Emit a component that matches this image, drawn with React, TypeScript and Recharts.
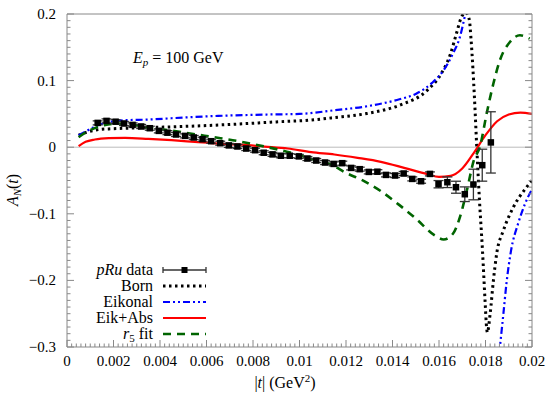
import {
  ComposedChart,
  Line,
  Scatter,
  ErrorBar,
  XAxis,
  YAxis,
  ReferenceLine,
} from "recharts";

// ---------------------------------------------------------------------------
// Data
// ---------------------------------------------------------------------------

// pRu data points
const dataT = [
  0.00132, 0.0017, 0.00209, 0.00245, 0.00282, 0.00319, 0.00356, 0.00395, 0.00432, 0.00469,
  0.00508, 0.00545, 0.00583, 0.0062, 0.00659, 0.00696, 0.00733, 0.00771, 0.00809, 0.00846,
  0.00884, 0.0092, 0.00958, 0.00997, 0.01034, 0.01072, 0.0111, 0.01147, 0.01184, 0.01222,
  0.01259, 0.01298, 0.01335, 0.01372, 0.01411, 0.01448, 0.01485, 0.01523, 0.01561, 0.01598,
  0.01636, 0.01673, 0.01711, 0.01748, 0.01786, 0.01823,
];
const dataA = [
  0.0365, 0.0395, 0.0383, 0.0356, 0.0335, 0.0311, 0.0285, 0.0245, 0.0218, 0.0191,
  0.017, 0.0146, 0.012, 0.009, 0.006, 0.0027, 0.0011, -0.002, -0.0045, -0.0083,
  -0.0108, -0.0128, -0.0128, -0.0138, -0.017, -0.02, -0.023, -0.0251, -0.024, -0.0311,
  -0.033, -0.0371, -0.0368, -0.0416, -0.0425, -0.0395, -0.0476, -0.0511, -0.0401, -0.0556,
  -0.0526, -0.0601, -0.0706, -0.056, -0.027, 0.0072,
];
const dataErr = [
  0.003, 0.003, 0.003, 0.003, 0.003, 0.003, 0.003, 0.003, 0.003, 0.003,
  0.003, 0.003, 0.003, 0.003, 0.003, 0.003, 0.003, 0.003, 0.003, 0.003,
  0.003, 0.003, 0.003, 0.003, 0.003, 0.003, 0.003, 0.003, 0.003, 0.003,
  0.003, 0.003, 0.003, 0.003, 0.003, 0.003, 0.003, 0.003, 0.003, 0.0055,
  0.008, 0.009, 0.011, 0.023, 0.024, 0.046,
];

// Born
const bornT = [
  0.0005, 0.0009, 0.0015, 0.0018, 0.003, 0.004, 0.006, 0.008, 0.009, 0.0104,
  0.0115, 0.0129, 0.0143, 0.0155, 0.0161, 0.0165, 0.01675, 0.01697, 0.01715, 0.0173,
  0.01738, 0.01753, 0.01763, 0.01774, 0.01787, 0.01798, 0.01805, 0.01808, 0.0182, 0.01834,
  0.01848, 0.01877, 0.0192, 0.01977, 0.02,
];
const bornA = [
  0.018, 0.023, 0.027, 0.0275, 0.029, 0.03, 0.0325, 0.036, 0.038, 0.0405,
  0.0445, 0.0506, 0.063, 0.0856, 0.1107, 0.1407, 0.1707, 0.1957, 0.202, 0.192,
  0.161, 0.0706, -0.0045, -0.0796, -0.155, -0.23, -0.272, -0.278, -0.25, -0.2,
  -0.16, -0.125, -0.09, -0.06, -0.05,
];

// Eikonal (pole between 0.0173 and 0.0185)
const eikT = [
  0.0005, 0.0008, 0.0012, 0.0017, 0.0025, 0.0035, 0.005, 0.0065, 0.0085, 0.01,
  0.0115, 0.013, 0.0143, 0.015, 0.0157, 0.0162, 0.0166, 0.0169, 0.0171, 0.0173,
  0.018, 0.0185, 0.01865, 0.01877, 0.0189, 0.0191, 0.0194, 0.0197, 0.02,
];
const eikA: (number | null)[] = [
  0.018, 0.0235, 0.031, 0.037, 0.0405, 0.0415, 0.0445, 0.047, 0.049, 0.05,
  0.0555, 0.062, 0.072, 0.08, 0.0965, 0.1156, 0.1407, 0.1656, 0.195, 0.23,
  null, -0.34, -0.29, -0.25, -0.205, -0.155, -0.115, -0.085, -0.063,
];

// Eik+Abs
const absT = [
  0.0005, 0.0008, 0.0012, 0.0018, 0.0025, 0.0035, 0.0045, 0.0055, 0.0065, 0.0075,
  0.0085, 0.0095, 0.0105, 0.0115, 0.0125, 0.0135, 0.0145, 0.0155, 0.016, 0.0165,
  0.017, 0.0175, 0.018, 0.0185, 0.019, 0.0195, 0.02,
];
const absA = [
  0.0015, 0.008, 0.0115, 0.0135, 0.014, 0.0125, 0.0105, 0.008, 0.0055, 0.0038,
  0.001, -0.002, -0.0075, -0.011, -0.016, -0.022, -0.031, -0.0405, -0.0445, -0.043,
  -0.032, -0.0085, 0.018, 0.039, 0.049, 0.052, 0.05,
];

// r5 fit
const fitT = [
  0.0005, 0.0009, 0.0016, 0.0022, 0.0028, 0.0036, 0.0045, 0.0055, 0.0066, 0.0073,
  0.008, 0.0087, 0.0096, 0.0106, 0.0114, 0.012, 0.0127, 0.0135, 0.0143, 0.015,
  0.0158, 0.0162, 0.0166, 0.0169, 0.0172, 0.0175, 0.01776, 0.01805, 0.01834, 0.01862,
  0.01905, 0.01948, 0.0199,
];
const fitA = [
  0.015, 0.024, 0.033, 0.0355, 0.034, 0.029, 0.025, 0.0195, 0.0135, 0.0095,
  0.0045, -0.0005, -0.008, -0.0185, -0.027, -0.0386, -0.0495, -0.066, -0.087, -0.107,
  -0.132, -0.1386, -0.13, -0.105, -0.0646, -0.0195, 0.0005, 0.0506, 0.0956, 0.1306,
  0.158, 0.168, 0.163,
];

// Axis ticks
const xMajor = [0, 0.002, 0.004, 0.006, 0.008, 0.01, 0.012, 0.014, 0.016, 0.018, 0.02];
const xLabels = ["0", "0.002", "0.004", "0.006", "0.008", "0.01", "0.012", "0.014", "0.016", "0.018", "0.02"];
const yMajor = [-0.3, -0.2, -0.1, 0, 0.1, 0.2];
const yLabels = ["\u22120.3", "\u22120.2", "\u22120.1", "0", "0.1", "0.2"];

// ---------------------------------------------------------------------------
// Helpers
// ---------------------------------------------------------------------------

const zip = (ts: number[], ys: (number | null)[]) => ts.map((t, i) => ({ t, y: ys[i] }));

const points = dataT.map((t, i) => ({ t, y: dataA[i], err: dataErr[i] }));

// minor ticks: 10 subdivisions per major interval
const xMinor = Array.from({ length: 101 }, (_, i) => Math.round(i * 2) / 10000);
const yMinor = Array.from({ length: 51 }, (_, i) => Math.round(-300 + i * 10) / 1000);

const majorIndex = (list: number[], v: number) =>
  list.findIndex((m) => Math.abs(m - v) < 1e-9);

const FRAME = "#888";
const FONT = "'Liberation Serif', 'Times New Roman', serif";
const MAJ = 7;
const MIN = 3.5;

function XTick(props: any) {
  const { x, y, payload, top } = props;
  const i = majorIndex(xMajor, payload.value);
  const len = i >= 0 ? MAJ : MIN;
  return (
    <g>
      <line x1={x} x2={x} y1={y} y2={top ? y + len : y - len} stroke={FRAME} strokeWidth={1} />
      {!top && i >= 0 && (
        <text x={x} y={y + 19} textAnchor="middle" fontSize={15} fontFamily={FONT} fill="#000">
          {xLabels[i]}
        </text>
      )}
    </g>
  );
}

function YTick(props: any) {
  const { x, y, payload, right } = props;
  const i = majorIndex(yMajor, payload.value);
  const len = i >= 0 ? MAJ : MIN;
  return (
    <g>
      <line x1={x} x2={right ? x - len : x + len} y1={y} y2={y} stroke={FRAME} strokeWidth={1} />
      {!right && i >= 0 && (
        <text x={x - 11} y={y + 5} textAnchor="end" fontSize={15} fontFamily={FONT} fill="#000">
          {yLabels[i]}
        </text>
      )}
    </g>
  );
}

const squareShape = (p: any) => (
  <rect x={p.cx - 3.25} y={p.cy - 3.25} width={6.5} height={6.5} fill="#000" />
);

// ---------------------------------------------------------------------------
// Legend entries
// ---------------------------------------------------------------------------

const legendRows = [
  { key: "data", y: 270 },
  { key: "born", y: 286, color: "#000", dash: "2.5 3.5", width: 3 },
  { key: "eik", y: 302, color: "#0000ff", dash: "7 3 2 3 2 3", width: 2.2 },
  { key: "abs", y: 318, color: "#ff0000", dash: undefined, width: 2.2 },
  { key: "fit", y: 334, color: "#006400", dash: "8 6", width: 2.6 },
];

function LegendLabel({ k, y }: { k: string; y: number }) {
  const common = { x: 153, y: y + 5, textAnchor: "end" as const, fontSize: 16, fontFamily: FONT, fill: "#000" };
  if (k === "data")
    return (
      <text {...common}>
        <tspan fontStyle="italic">pRu</tspan> data
      </text>
    );
  if (k === "born") return <text {...common}>Born</text>;
  if (k === "eik") return <text {...common}>Eikonal</text>;
  if (k === "abs") return <text {...common}>Eik+Abs</text>;
  return (
    <text {...common}>
      <tspan fontStyle="italic">r</tspan>
      <tspan fontSize={11} dy={3}>5</tspan>
      <tspan dy={-3}> fit</tspan>
    </text>
  );
}

// ---------------------------------------------------------------------------
// App
// ---------------------------------------------------------------------------

export default function App() {
  return (
    <div style={{ position: "absolute", left: 0, top: 0, width: 550, height: 399, background: "#fff" }}>
      <ComposedChart width={550} height={399} margin={{ top: 0, right: 0, bottom: 0, left: 0 }}>
        <XAxis
          dataKey="t"
          type="number"
          domain={[0, 0.02]}
          allowDataOverflow
          ticks={xMinor}
          interval={0}
          height={52}
          tickSize={0}
          tickMargin={0}
          tickLine={false}
          axisLine={{ stroke: FRAME }}
          tick={(p: any) => <XTick {...p} />}
        />
        <XAxis
          xAxisId="top"
          orientation="top"
          type="number"
          domain={[0, 0.02]}
          allowDataOverflow
          ticks={xMinor}
          interval={0}
          height={14}
          tickSize={0}
          tickMargin={0}
          tickLine={false}
          axisLine={{ stroke: FRAME }}
          tick={(p: any) => <XTick {...p} top />}
        />
        <YAxis
          dataKey="y"
          type="number"
          domain={[-0.3, 0.2]}
          allowDataOverflow
          ticks={yMinor}
          interval={0}
          width={67}
          tickSize={0}
          tickMargin={0}
          tickLine={false}
          axisLine={{ stroke: FRAME }}
          tick={(p: any) => <YTick {...p} />}
        />
        <YAxis
          yAxisId="right"
          orientation="right"
          type="number"
          domain={[-0.3, 0.2]}
          allowDataOverflow
          ticks={yMinor}
          interval={0}
          width={18}
          tickSize={0}
          tickMargin={0}
          tickLine={false}
          axisLine={{ stroke: FRAME }}
          tick={(p: any) => <YTick {...p} right />}
        />

        <ReferenceLine y={0} stroke="#bbb" strokeWidth={1} />

        <Line
          data={zip(bornT, bornA)}
          dataKey="y"
          type="monotone"
          stroke="#000"
          strokeWidth={3}
          strokeDasharray="2.5 3.5"
          dot={false}
          isAnimationActive={false}
        />
        <Line
          data={zip(eikT, eikA)}
          dataKey="y"
          type="monotone"
          stroke="#0000ff"
          strokeWidth={2.2}
          strokeDasharray="7 3 2 3 2 3"
          dot={false}
          connectNulls={false}
          isAnimationActive={false}
        />
        <Line
          data={zip(absT, absA)}
          dataKey="y"
          type="monotone"
          stroke="#ff0000"
          strokeWidth={2.2}
          dot={false}
          isAnimationActive={false}
        />
        <Line
          data={zip(fitT, fitA)}
          dataKey="y"
          type="monotone"
          stroke="#006400"
          strokeWidth={2.6}
          strokeDasharray="8 6"
          dot={false}
          isAnimationActive={false}
        />
        <Scatter data={points} dataKey="y" shape={squareShape} isAnimationActive={false}>
          <ErrorBar dataKey="err" direction="y" width={5} stroke="#333" strokeWidth={1.3} />
        </Scatter>
      </ComposedChart>

      <svg
        width={550}
        height={399}
        style={{ position: "absolute", left: 0, top: 0, pointerEvents: "none" }}
      >
        {/* energy annotation */}
        <text x={133} y={63} fontSize={16} fontFamily={FONT} fill="#000">
          <tspan fontStyle="italic">E</tspan>
          <tspan fontSize={11} fontStyle="italic" dy={3}>p</tspan>
          <tspan dy={-3}> = 100 GeV</tspan>
        </text>

        {/* axis titles */}
        <text x={285} y={388} textAnchor="middle" fontSize={16} fontFamily={FONT} fill="#000">
          |<tspan fontStyle="italic">t</tspan>| (GeV
          <tspan fontSize={11} dy={-6}>2</tspan>
          <tspan dy={6}>)</tspan>
        </text>
        <text
          transform="translate(18,190) rotate(-90)"
          textAnchor="middle"
          fontSize={16}
          fontFamily={FONT}
          fill="#000"
        >
          <tspan fontStyle="italic">A</tspan>
          <tspan fontSize={11} fontStyle="italic" dy={3}>N</tspan>
          <tspan dy={-3}>(</tspan>
          <tspan fontStyle="italic">t</tspan>)
        </text>

        {/* legend */}
        {legendRows.map((r) => (
          <g key={r.key}>
            <LegendLabel k={r.key} y={r.y} />
            {r.key === "data" ? (
              <g stroke="#333" strokeWidth={1.3}>
                <line x1={163} x2={206} y1={r.y} y2={r.y} />
                <line x1={163} x2={163} y1={r.y - 3} y2={r.y + 3} />
                <line x1={206} x2={206} y1={r.y - 3} y2={r.y + 3} />
                <rect x={181.5} y={r.y - 3} width={6} height={6} fill="#000" stroke="none" />
              </g>
            ) : (
              <line
                x1={163}
                x2={206}
                y1={r.y}
                y2={r.y}
                stroke={r.color}
                strokeWidth={r.width}
                strokeDasharray={r.dash}
              />
            )}
          </g>
        ))}
      </svg>
    </div>
  );
}
